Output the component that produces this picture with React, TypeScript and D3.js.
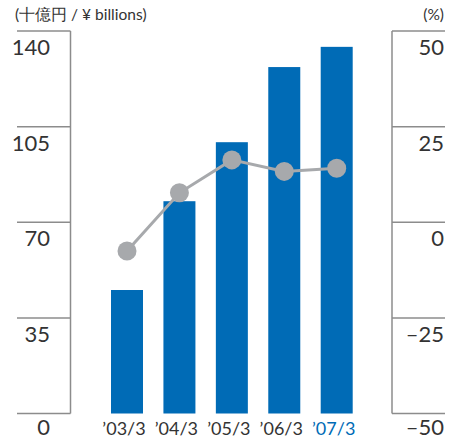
import React from "react";
import * as d3 from "d3";

const categories = ["’03/3", "’04/3", "’05/3", "’06/3", "’07/3"];
const netSales = [45.2, 77.7, 99.3, 126.8, 134.2];
const growthRate = [-7.5, 7.7, 16.3, 13.3, 14.1];
const leftTicks = [0, 35, 70, 105, 140];
const rightTicks = [-50, -25, 0, 25, 50];

const W = 453;
const H = 439;
const top = 31;
const bottom = 413.5;
const font = "Lato, 'Liberation Sans', sans-serif";
const axisColor = "#8c8c8c";
const blue = "#006bb6";
const gray = "#a7a9ac";

export default function App() {
  const yL = d3.scaleLinear().domain([0, 140]).range([bottom, top]);
  const yR = d3.scaleLinear().domain([-50, 50]).range([bottom, top]);
  const x = d3.scalePoint<string>().domain(categories).range([127, 336.7]);
  const bw = 32;
  const line = d3
    .line<number>()
    .x((_, i) => x(categories[i])!)
    .y((d) => yR(d));

  return (
    <svg
      width={W}
      height={H}
      style={{ position: "absolute", left: 0, top: 0 }}
      fontFamily={font}
    >
      <rect width={W} height={H} fill="#fff" />
      <text x={15} y={20} fontSize={15.5} fill="#333">
        (十億円 / ¥ billions)
      </text>
      <text x={444} y={20} fontSize={15.5} fill="#333" textAnchor="end">
        (%)
      </text>
      {/* left axis */}
      <line x1={70.5} x2={70.5} y1={top} y2={bottom} stroke={axisColor} strokeWidth={1.5} />
      {leftTicks.map((t) => (
        <g key={"l" + t}>
          <line x1={17} x2={70.5} y1={yL(t)} y2={yL(t)} stroke={axisColor} strokeWidth={1.5} />
          <text x={50} y={Math.min(yL(t) + 24, 435)} fontSize={22} fill="#333" textAnchor="end">
            {t}
          </text>
        </g>
      ))}
      {/* right axis */}
      <line x1={392} x2={392} y1={top} y2={bottom} stroke={axisColor} strokeWidth={1.5} />
      {rightTicks.map((t) => (
        <g key={"r" + t}>
          <line x1={392} x2={445} y1={yR(t)} y2={yR(t)} stroke={axisColor} strokeWidth={1.5} />
          <text x={444} y={Math.min(yR(t) + 24, 435)} fontSize={22} fill="#333" textAnchor="end">
            {t < 0 ? "–" + Math.abs(t) : t}
          </text>
        </g>
      ))}
      {/* bars */}
      {netSales.map((v, i) => (
        <rect
          key={"b" + i}
          x={x(categories[i])! - bw / 2}
          y={yL(v)}
          width={bw}
          height={yL(0) - yL(v)}
          fill={blue}
        />
      ))}
      {/* line */}
      <path d={line(growthRate)!} fill="none" stroke={gray} strokeWidth={3} />
      {growthRate.map((v, i) => (
        <circle key={"c" + i} cx={x(categories[i])!} cy={yR(v)} r={9.5} fill={gray} />
      ))}
      {categories.map((c, i) => (
        <text
          key={"x" + i}
          x={x(c)! - 3}
          y={435}
          fontSize={18}
          textAnchor="middle"
          fill={i === categories.length - 1 ? blue : "#333"}
        >
          {c}
        </text>
      ))}
    </svg>
  );
}
